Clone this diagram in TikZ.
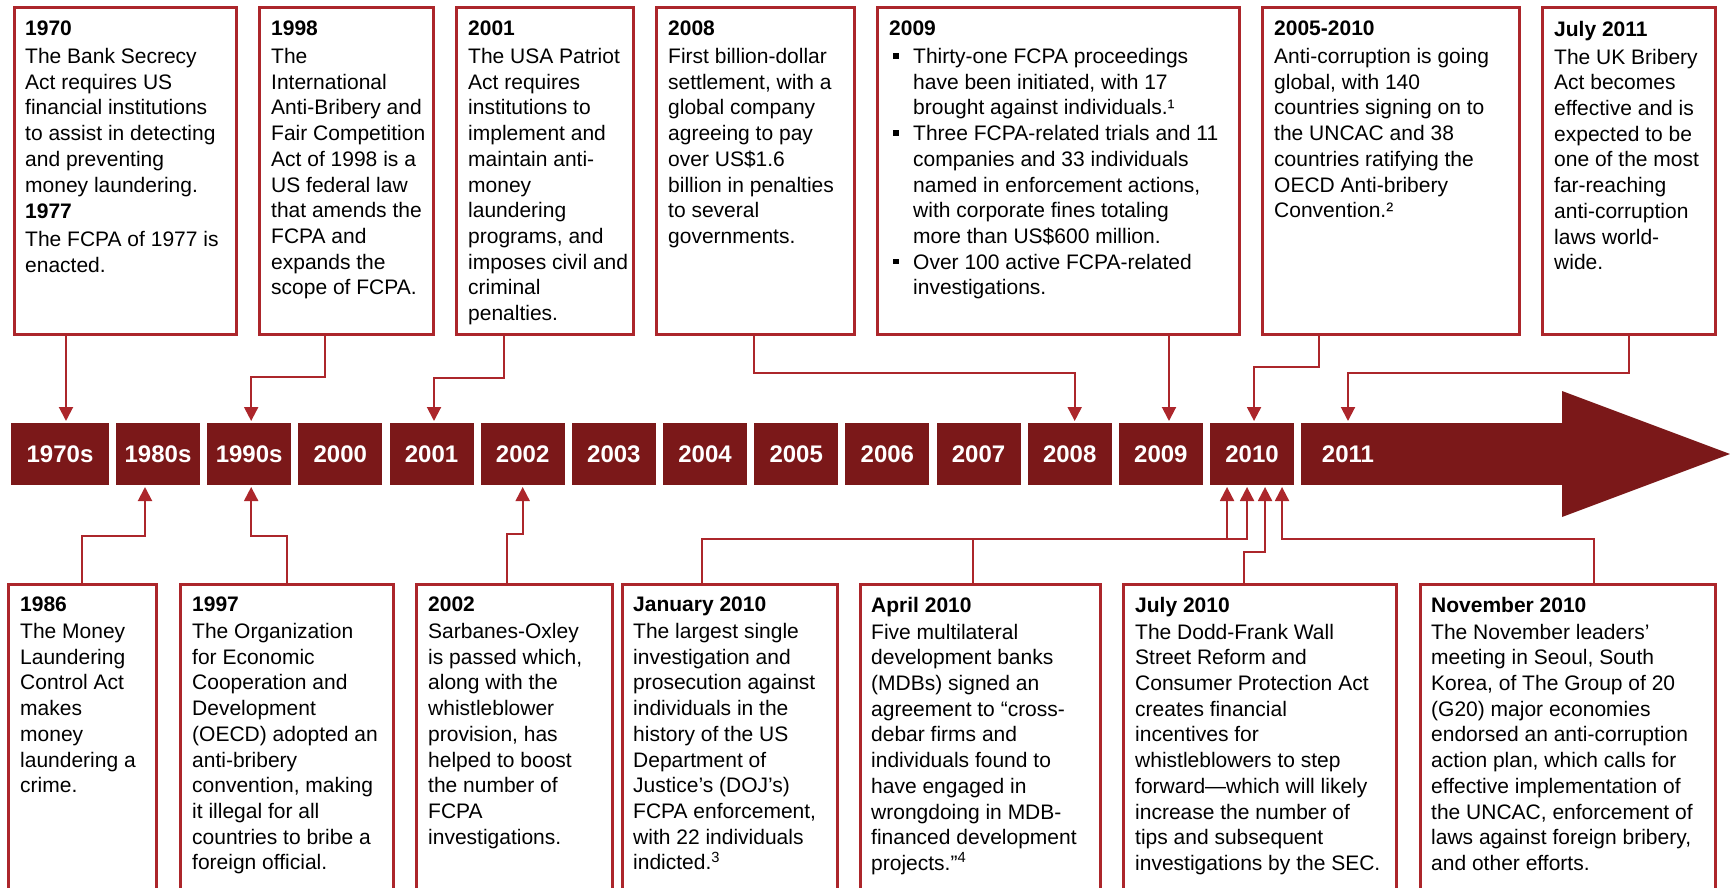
\documentclass[tikz,border=0pt]{standalone}
\usepackage{fontspec}
\setmainfont{Liberation Sans}
\usetikzlibrary{arrows.meta}
\definecolor{maroon}{HTML}{7B1819}
\definecolor{boxred}{HTML}{AC262B}
\newcommand{\bul}{\hspace*{4pt}\raisebox{5pt}{\rule{5.5pt}{5.5pt}}\hspace{14.5pt}}
\newcommand{\ind}{\hspace*{24pt}}
\begin{document}
\begin{tikzpicture}[x=1pt,y=-1pt,
  evbox/.style={draw=boxred,line width=3pt,inner sep=0pt,outer sep=0pt,anchor=north west},
  evtext/.style={anchor=north west,inner sep=0pt,align=left,font=\fontsize{21}{25.7}\selectfont},
  yr/.style={fill=maroon,draw=none,inner sep=0pt,outer sep=0pt,anchor=north west,
     minimum height=62pt,text=white,font=\fontsize{24}{24}\selectfont\bfseries},
  yrlbl/.style={text=white,inner sep=0pt,font=\fontsize{24}{24}\selectfont\bfseries},
  conn/.style={draw=boxred,line width=2pt,shorten >=2pt,-{Triangle[length=14pt,width=14pt]}},
]
\useasboundingbox (0,0) rectangle (1730,888);

% ---------- timeline ----------
\node[yr,minimum width=98pt] (b1970s) at (11,423) {1970s};
\foreach \lbl [count=\i from 0] in {1980s,1990s,2000,2001,2002,2003,2004,2005,2006,2007,2008,2009,2010}
  \node[yr,minimum width=84pt] (b\lbl) at ({116+\i*91.17},423) {\lbl};
\node[yr,minimum width=262pt] (b2011) at (1301,423) {};
\fill[maroon] (1562,423) -- (1562,391) -- (1730,454) -- (1562,517) -- (1562,485) -- cycle;
\node[yrlbl] (l2011) at (1348,454) {2011};

% ---------- top boxes ----------
\node[evbox,minimum width=222pt,minimum height=326pt] (e1970) at (14,8) {};
\node[evbox,minimum width=174pt,minimum height=326pt] (e1998) at (259,8) {};
\node[evbox,minimum width=177pt,minimum height=326pt] (e2001) at (456,8) {};
\node[evbox,minimum width=198pt,minimum height=326pt] (e2008) at (656,8) {};
\node[evbox,minimum width=362pt,minimum height=326pt] (e2009) at (877,8) {};
\node[evbox,minimum width=257pt,minimum height=326pt] (e0510) at (1262,8) {};
\node[evbox,minimum width=173pt,minimum height=326pt] (e2011) at (1542,8) {};

\node[evtext] (t1970) at ([xshift=11pt,yshift=-13pt]e1970.north west)
 {\textbf{1970}\\[2pt]The Bank Secrecy\\Act requires US\\financial institutions\\to assist in detecting\\and preventing\\money laundering.\\[1pt]\textbf{1977}\\[2pt]The FCPA of 1977 is\\enacted.};
\node[evtext] (t1998) at ([xshift=12pt,yshift=-13pt]e1998.north west)
 {\textbf{1998}\\[2pt]The\\International\\Anti-Bribery and\\Fair Competition\\Act of 1998 is a\\US federal law\\that amends the\\FCPA and\\expands the\\scope of FCPA.};
\node[evtext] (t2001) at ([xshift=12pt,yshift=-13pt]e2001.north west)
 {\textbf{2001}\\[2pt]The USA Patriot\\Act requires\\institutions to\\implement and\\maintain anti-\\money\\laundering\\programs, and\\imposes civil and\\criminal\\penalties.};
\node[evtext] (t2008) at ([xshift=12pt,yshift=-13pt]e2008.north west)
 {\textbf{2008}\\[2pt]First billion-dollar\\settlement, with a\\global company\\agreeing to pay\\over US\$1.6\\billion in penalties\\to several\\governments.};
\node[evtext] (t2009) at ([xshift=12pt,yshift=-13pt]e2009.north west)
 {\textbf{2009}\\[2pt]\bul Thirty-one FCPA proceedings\\\ind have been initiated, with 17\\\ind brought against individuals.¹\\\bul Three FCPA-related trials and 11\\\ind companies and 33 individuals\\\ind named in enforcement actions,\\\ind with corporate fines totaling\\\ind more than US\$600 million.\\\bul Over 100 active FCPA-related\\\ind investigations.};
\node[evtext] (t0510) at ([xshift=12pt,yshift=-13pt]e0510.north west)
 {\textbf{2005-2010}\\[2pt]Anti-corruption is going\\global, with 140\\countries signing on to\\the UNCAC and 38\\countries ratifying the\\OECD Anti-bribery\\Convention.²};
\node[evtext] (t2011) at ([xshift=12pt,yshift=-13pt]e2011.north west)
 {\textbf{July 2011}\\[2pt]The UK Bribery\\Act becomes\\effective and is\\expected to be\\one of the most\\far-reaching\\anti-corruption\\laws world-\\wide.};

% ---------- bottom boxes ----------
\node[evbox,minimum width=148pt,minimum height=320pt] (e1986) at (8,584) {};
\node[evbox,minimum width=213pt,minimum height=320pt] (e1997) at (180,584) {};
\node[evbox,minimum width=196pt,minimum height=320pt] (e2002) at (416,584) {};
\node[evbox,minimum width=215pt,minimum height=320pt] (eJan) at (622,584) {};
\node[evbox,minimum width=240pt,minimum height=320pt] (eApr) at (860,584) {};
\node[evbox,minimum width=273pt,minimum height=320pt] (eJul) at (1123,584) {};
\node[evbox,minimum width=295pt,minimum height=320pt] (eNov) at (1420,584) {};

\node[evtext] (t1986) at ([xshift=12pt,yshift=-13pt]e1986.north west)
 {\textbf{1986}\\[1pt]The Money\\Laundering\\Control Act\\makes\\money\\laundering a\\crime.};
\node[evtext] (t1997) at ([xshift=12pt,yshift=-13pt]e1997.north west)
 {\textbf{1997}\\[1pt]The Organization\\for Economic\\Cooperation and\\Development\\(OECD) adopted an\\anti-bribery\\convention, making\\it illegal for all\\countries to bribe a\\foreign official.};
\node[evtext] (t2002) at ([xshift=12pt,yshift=-13pt]e2002.north west)
 {\textbf{2002}\\[1pt]Sarbanes-Oxley\\is passed which,\\along with the\\whistleblower\\provision, has\\helped to boost\\the number of\\FCPA\\investigations.};
\node[evtext] (tJan) at ([xshift=11pt,yshift=-13pt]eJan.north west)
 {\textbf{January 2010}\\[1pt]The largest single\\investigation and\\prosecution against\\individuals in the\\history of the US\\Department of\\Justice’s (DOJ’s)\\FCPA enforcement,\\with 22 individuals\\indicted.\textsuperscript{3}};
\node[evtext] (tApr) at ([xshift=11pt,yshift=-13pt]eApr.north west)
 {\textbf{April 2010}\\[1pt]Five multilateral\\development banks\\(MDBs) signed an\\agreement to “cross-\\debar firms and\\individuals found to\\have engaged in\\wrongdoing in MDB-\\financed development\\projects.”\textsuperscript{4}};
\node[evtext] (tJul) at ([xshift=12pt,yshift=-13pt]eJul.north west)
 {\textbf{July 2010}\\[1pt]The Dodd-Frank Wall\\Street Reform and\\Consumer Protection Act\\creates financial\\incentives for\\whistleblowers to step\\forward—which will likely\\increase the number of\\tips and subsequent\\investigations by the SEC.};
\node[evtext] (tNov) at ([xshift=11pt,yshift=-13pt]eNov.north west)
 {\textbf{November 2010}\\[1pt]The November leaders’\\meeting in Seoul, South\\Korea, of The Group of 20\\(G20) major economies\\endorsed an anti-corruption\\action plan, which calls for\\effective implementation of\\the UNCAC, enforcement of\\laws against foreign bribery,\\and other efforts.};

% ---------- connector start points ----------
\coordinate (c1970) at ([xshift=-59pt]e1970.south);
\coordinate (c1998) at ([xshift=-21pt]e1998.south);
\coordinate (c2001) at ([xshift=-40.5pt]e2001.south);
\coordinate (c2008) at ([xshift=-1pt]e2008.south);
\coordinate (c2009) at ([xshift=111pt]e2009.south);
\coordinate (c0510) at ([xshift=-71.5pt]e0510.south);
\coordinate (c2011) at (e2011.south);

\coordinate (c1986) at (e1986.north);
\coordinate (c1997) at (e1997.north);
\coordinate (c2002) at ([xshift=-7pt]e2002.north);
\coordinate (cJan) at ([xshift=-27.5pt]eJan.north);
\coordinate (cApr) at ([xshift=-7pt]eApr.north);
\coordinate (cJul) at ([xshift=-15.5pt]eJul.north);
\coordinate (cNov) at ([xshift=26.5pt]eNov.north);

% ---------- connectors (top) ----------
\draw[conn] (c1970) -- (c1970 |- b1970s.north);
\draw[conn] (c1998) -- ++(0,43) -| ([xshift=2pt]b1990s.north);
\draw[conn] (c2001) -- ++(0,44) -| ([xshift=2.5pt]b2001.north);
\draw[conn] (c2008) -- ++(0,39) -| ([xshift=5pt]b2008.north);
\draw[conn] (c2009) -- (c2009 |- b2009.north);
\draw[conn] (c0510) -- ++(0,33) -| ([xshift=2pt]b2010.north);
\draw[conn] (c2011) -- ++(0,39) -| (l2011 |- b2011.north);

% ---------- connectors (bottom) ----------
\draw[conn] (c1986) -- ++(0,-48) -| ([xshift=-13pt]b1980s.south);
\draw[conn] (c1997) -- ++(0,-48) -| ([xshift=2pt]b1990s.south);
\draw[conn] (c2002) -- ++(0,-50) -| (b2002.south);
\draw[conn] (cJan) -- ++(0,-45) -| ([xshift=-25pt]b2010.south);
\draw[conn] (cApr) -- ++(0,-45) -| ([xshift=-5pt]b2010.south);
\draw[conn] (cJul) -- ++(0,-32) -| ([xshift=13pt]b2010.south);
\draw[conn] (cNov) -- ++(0,-45) -| ([xshift=30pt]b2010.south);
\end{tikzpicture}
\end{document}
